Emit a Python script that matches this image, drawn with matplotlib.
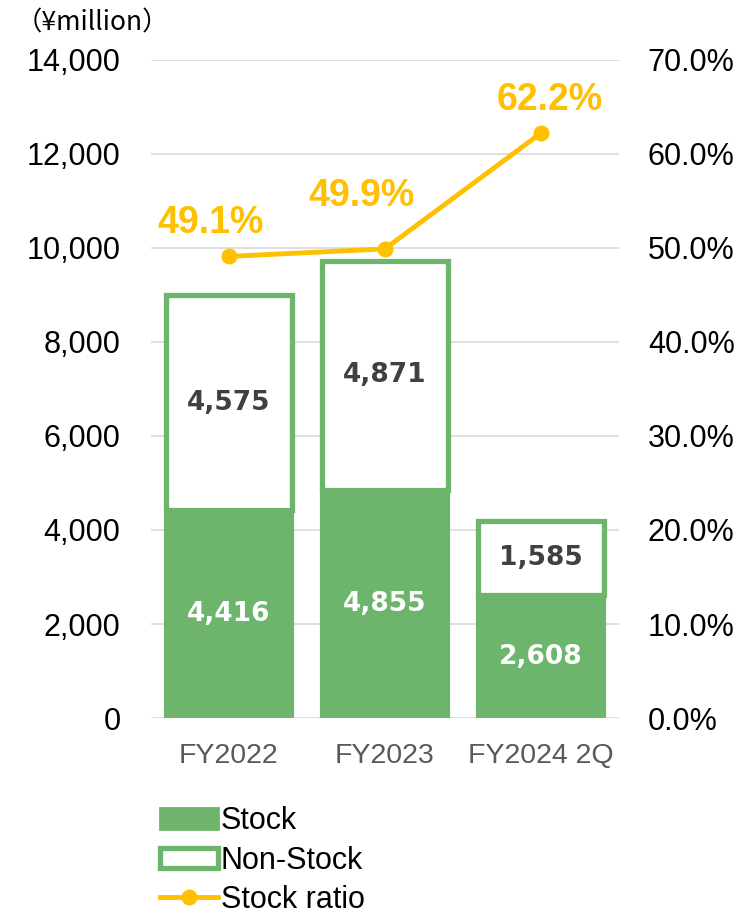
import matplotlib
matplotlib.use("Agg")
import matplotlib.pyplot as plt
from matplotlib.patches import Patch
from matplotlib.lines import Line2D
from matplotlib.ticker import FuncFormatter, MultipleLocator

# data
categories = ["FY2022", "FY2023", "FY2024 2Q"]
stock = [4416, 4855, 2608]
non_stock = [4575, 4871, 1585]
stock_ratio = [49.1, 49.9, 62.2]

green = "#6DB56D"
gold = "#FFC000"
plt.rcParams['font.family'] = ['Liberation Sans', 'DejaVu Sans']

fig = plt.figure(figsize=(7.4, 9.21), dpi=100)
ax = fig.add_axes([0.204, 0.2204, 0.632, 0.7145])

x = list(range(len(categories)))
w = 0.81
ax.bar(x, stock, width=w, color=green, edgecolor=green, linewidth=3, zorder=3)
ax.bar(x, non_stock, width=w, bottom=stock, color="white", edgecolor=green,
       linewidth=3.8, zorder=3)

for i in x:
    ax.text(i, stock[i] / 2, f"{stock[i]:,}", ha="center", va="center",
            color="white", fontsize=19, fontweight="bold", family="DejaVu Sans", zorder=5)
    ax.text(i, stock[i] + non_stock[i] / 2, f"{non_stock[i]:,}", ha="center", va="center",
            color="#404040", fontsize=19, fontweight="bold", family="DejaVu Sans", zorder=5)

ax.set_xlim(-0.5, 2.5)
ax.set_ylim(0, 14000)
ax.yaxis.set_major_locator(MultipleLocator(2000))
ax.yaxis.set_major_formatter(FuncFormatter(lambda v, p: f"{int(v):,}"))
ax.grid(axis="y", color="#D9D9D9", linewidth=1.2, zorder=0)
ax.set_axisbelow(True)
for s in ax.spines.values():
    s.set_visible(False)
ax.tick_params(axis="y", length=0, labelsize=22, pad=22, labelcolor="black")
ax.set_xticks(x)
ax.set_xticklabels(categories)
ax.tick_params(axis="x", length=0, labelsize=20.5, pad=18, labelcolor="#595959")

ax2 = ax.twinx()
ax2.set_ylim(0, 70)
ax2.yaxis.set_major_locator(MultipleLocator(10))
ax2.yaxis.set_major_formatter(FuncFormatter(lambda v, p: f"{v:.1f}%"))
for s in ax2.spines.values():
    s.set_visible(False)
ax2.tick_params(axis="y", length=0, labelsize=22, pad=21)
ax2.plot(x, stock_ratio, color=gold, linewidth=3.5, marker="o", markersize=10.5, zorder=6)

label_off = [(-0.12, 3.6), (-0.15, 5.6), (0.06, 3.5)]
for i in x:
    dx, dy = label_off[i]
    ax2.text(i + dx, stock_ratio[i] + dy, f"{stock_ratio[i]:.1f}%", ha="center", va="center",
             color=gold, fontsize=27, fontweight="bold")

fig.text(0.021, 0.975, "（¥million）", fontsize=19, va="center", ha="left",
         family=["Noto Sans CJK JP", "DejaVu Sans"])

handles = [
    Patch(facecolor=green, edgecolor=green, linewidth=2),
    Patch(facecolor="white", edgecolor=green, linewidth=3.8),
    Line2D([0], [0], color=gold, linewidth=3.5, marker="o", markersize=10.5),
]
fig.legend(handles, ["Stock", "Non-Stock", "Stock ratio"], loc="upper left",
           bbox_to_anchor=(0.216, 0.1245), frameon=False, fontsize=22,
           handlelength=1.9, handleheight=0.65, handletextpad=0.1,
           labelspacing=0.3, borderpad=0, borderaxespad=0)

fig.savefig("out.png", dpi=100)
